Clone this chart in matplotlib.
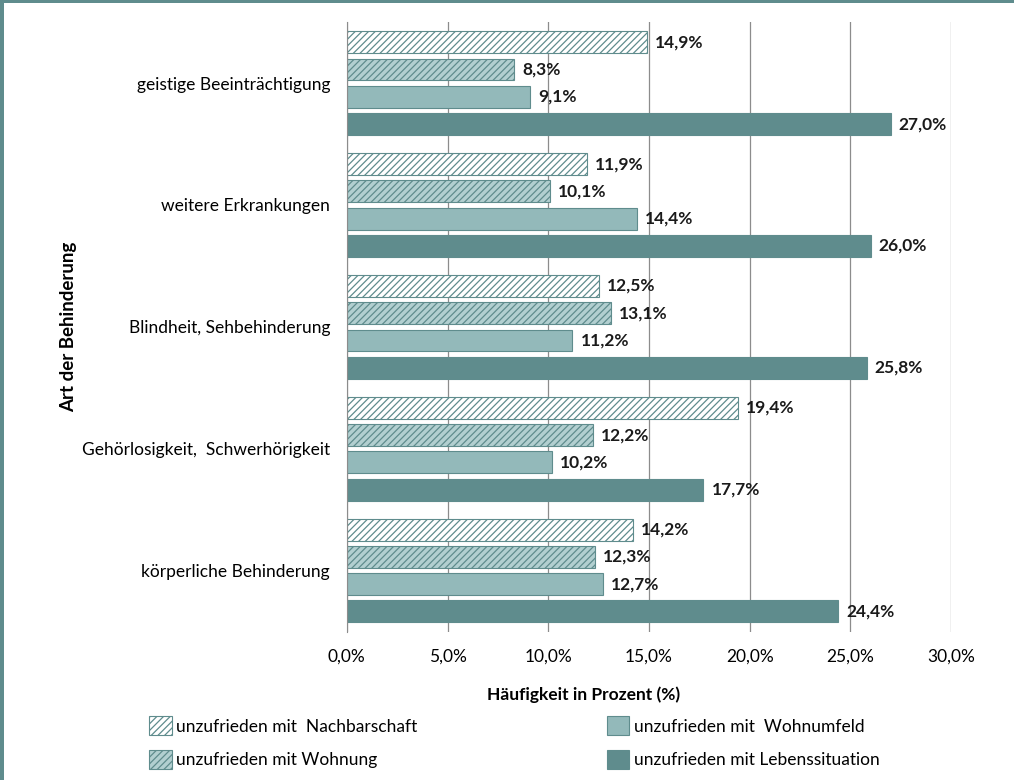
import matplotlib.pyplot as plt
import matplotlib.patches as mpatches
import numpy as np

plt.rcParams['font.family'] = ['Lato', 'DejaVu Sans']
plt.rcParams['hatch.linewidth'] = 0.9

# === Data
categories = [
    "geistige Beeinträchtigung",
    "weitere Erkrankungen",
    "Blindheit, Sehbehinderung",
    "Gehörlosigkeit,  Schwerhörigkeit",
    "körperliche Behinderung",
]
series_names = [
    "unzufrieden mit  Nachbarschaft",
    "unzufrieden mit Wohnung",
    "unzufrieden mit  Wohnumfeld",
    "unzufrieden mit Lebenssituation",
]
nachbarschaft = [14.9, 11.9, 12.5, 19.4, 14.2]
wohnung = [8.3, 10.1, 13.1, 12.2, 12.3]
wohnumfeld = [9.1, 14.4, 11.2, 10.2, 12.7]
lebenssituation = [27.0, 26.0, 25.8, 17.7, 24.4]
x_ticks = [0, 5, 10, 15, 20, 25, 30]

# === Styles
teal = "#5f8c8d"
styles = [
    dict(facecolor="white", edgecolor=teal, hatch="/////"),
    dict(facecolor="#b2cfd0", edgecolor=teal, hatch="/////"),
    dict(facecolor="#93b9ba", edgecolor=teal, hatch=None),
    dict(facecolor=teal, edgecolor=teal, hatch=None),
]

fig = plt.figure(figsize=(10.14, 7.8), dpi=100)
ax = fig.add_axes([0.342, 0.190, 0.596, 0.782])

n = len(categories)
bar_step = 0.224
bar_h = 0.18
centers = np.arange(n)[::-1].astype(float)

all_series = [nachbarschaft, wohnung, wohnumfeld, lebenssituation]
handles = []
for i, (vals, st, name) in enumerate(zip(all_series, styles, series_names)):
    ys = centers + (1.5 - i) * bar_step
    bars = ax.barh(ys, vals, height=bar_h, facecolor=st["facecolor"],
                   edgecolor=st["edgecolor"], hatch=st["hatch"], linewidth=0.8,
                   label=name, zorder=3)
    handles.append(bars)
    for y, v in zip(ys, vals):
        ax.text(v + 0.4, y, f"{v:.1f}%".replace(".", ","), va="center",
                ha="left", fontsize=12.5, fontweight="bold", color="#1a1a1a")

ax.set_xlim(0, 30)
ax.set_ylim(centers[-1] - 0.503, centers[0] + 0.503)
ax.set_xticks(x_ticks)
ax.set_xticklabels([f"{t:.1f}%".replace(".", ",") for t in x_ticks], fontsize=12.5)
ax.set_yticks(centers)
ax.set_yticklabels(categories, fontsize=12.5)
ax.tick_params(axis="y", length=0, pad=12)
ax.tick_params(axis="x", length=0, pad=12)

ax.grid(axis="x", color="#8c8c8c", linewidth=0.9, zorder=0)
for s in ["top", "right", "bottom"]:
    ax.spines[s].set_visible(False)
ax.spines["left"].set_color("#8c8c8c")
ax.spines["left"].set_zorder(4)

fig.text(584 / 1014, 1 - 695 / 780, "Häufigkeit in Prozent (%)", fontsize=12.5,
         fontweight="bold", ha="center", va="center")
fig.text(69 / 1014, 1 - 327 / 780, "Art der Behinderung", fontsize=13.5,
         fontweight="bold", ha="center", va="center", rotation=90)

fig.legend(handles=handles, labels=series_names, ncol=2, loc="lower left",
           bbox_to_anchor=(0.132, -0.006), frameon=False, fontsize=12.5,
           columnspacing=10.9, handlelength=1.3, handleheight=1.3,
           handletextpad=0.25, labelspacing=0.85)

# === teal frame
fig.patches.append(mpatches.Rectangle((0, 0), 4 / 1014, 1, transform=fig.transFigure,
                                      facecolor=teal, edgecolor="none"))
fig.patches.append(mpatches.Rectangle((0, 1 - 3 / 780), 1, 3 / 780, transform=fig.transFigure,
                                      facecolor=teal, edgecolor="none"))

fig.savefig("out.png", dpi=100)
